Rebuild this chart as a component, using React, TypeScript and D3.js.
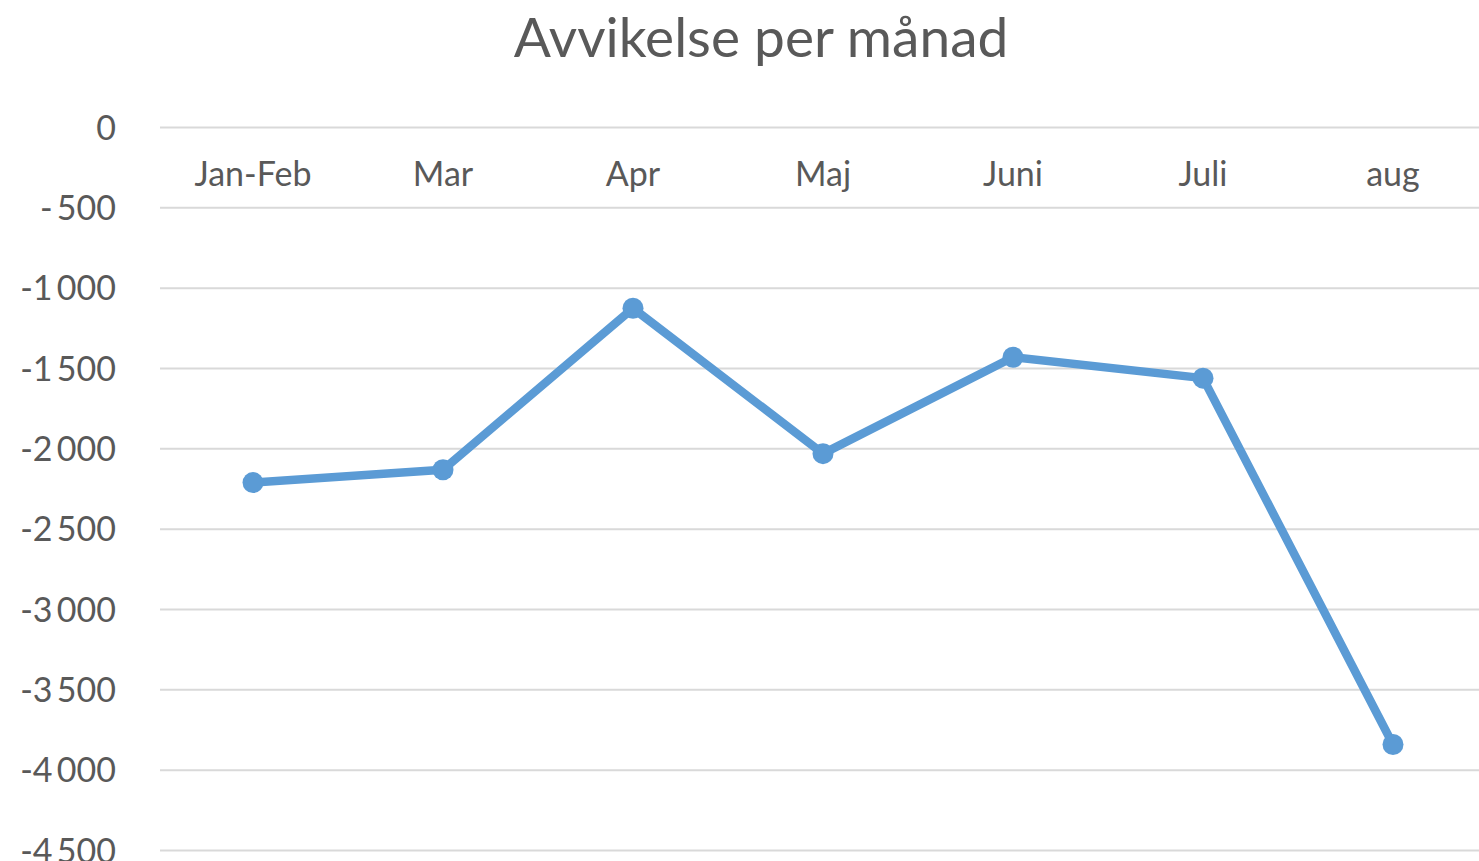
import React from "react";
import * as d3 from "d3";

const categories = ["Jan-Feb", "Mar", "Apr", "Maj", "Juni", "Juli", "aug"];
const values = [-2210, -2130, -1125, -2030, -1430, -1560, -3840];
const yTicks = [0, -500, -1000, -1500, -2000, -2500, -3000, -3500, -4000, -4500];
const yTickLabels = ["0", "-\u2009500", "-1\u2009000", "-1\u2009500", "-2\u2009000", "-2\u2009500", "-3\u2009000", "-3\u2009500", "-4\u2009000", "-4\u2009500"];
const title = "Avvikelse per månad";

const W = 1479;
const H = 861;
const FONT = "Lato, 'Open Sans', sans-serif";
const TEXT = "#595959";

export default function App() {
  const x = d3.scaleBand<string>().domain(categories).range([158, 1488]);
  const y = d3.scaleLinear().domain([-4500, 0]).range([850.5, 127.5]);
  const cx = (c: string) => (x(c) as number) + x.bandwidth() / 2;
  const line = d3
    .line<number>()
    .x((_, i) => cx(categories[i]))
    .y((v) => y(v));

  return (
    <div style={{ position: "absolute", left: 0, top: 0 }}>
      <svg width={W} height={H} style={{ display: "block", background: "#fff" }}>
        <text x={761} y={57} textAnchor="middle" fontFamily={FONT} fontSize={55} fill={TEXT}>
          {title}
        </text>
        {yTicks.map((t, i) => (
          <g key={t}>
            <line x1={160} x2={W} y1={y(t)} y2={y(t)} stroke="#d9d9d9" strokeWidth={2} />
            <text x={116} y={y(t)} dy="0.36em" textAnchor="end" fontFamily={FONT} fontSize={34} fill={TEXT}>
              {yTickLabels[i]}
            </text>
          </g>
        ))}
        {categories.map((c) => (
          <text key={c} x={cx(c)} y={186} textAnchor="middle" fontFamily={FONT} fontSize={34} fill={TEXT}>
            {c}
          </text>
        ))}
        <path d={line(values) || ""} fill="none" stroke="#5B9BD5" strokeWidth={8.5} strokeLinejoin="round" />
        {values.map((v, i) => (
          <circle key={i} cx={cx(categories[i])} cy={y(v)} r={10.5} fill="#5B9BD5" />
        ))}
      </svg>
    </div>
  );
}
